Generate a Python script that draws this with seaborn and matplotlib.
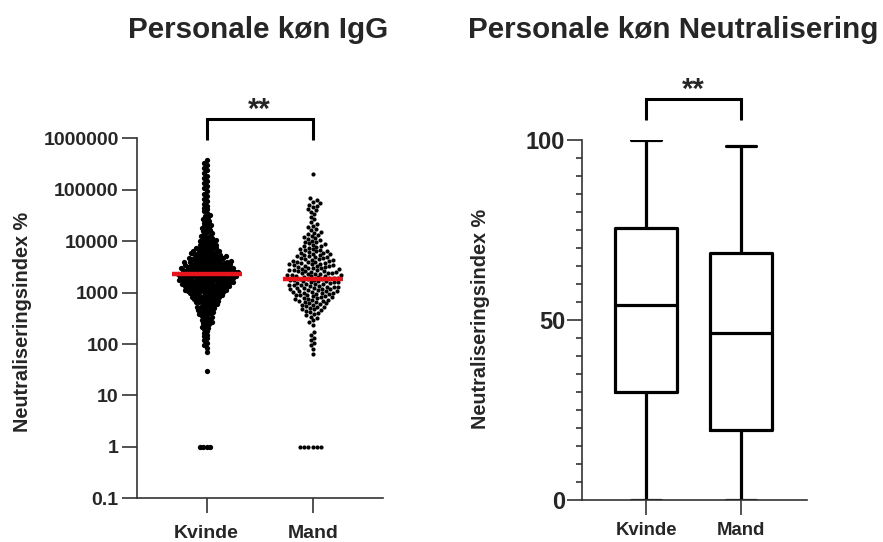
import numpy as np
import pandas as pd
import matplotlib
matplotlib.use("Agg")
import matplotlib.pyplot as plt
import seaborn as sns
from matplotlib.ticker import FixedLocator, MultipleLocator, NullLocator

# ---------------- data ----------------
categories = ["Kvinde", "Mand"]

# IgG panel: swarm read as a histogram (bin centre in log10 units, number of dots)
igg_kvinde_log_bins = [5.55, 5.45, 5.35, 5.25, 5.15, 5.05, 4.95, 4.85, 4.75, 4.65, 4.55, 4.45,
                       4.35, 4.25, 4.15, 4.05, 3.95, 3.85, 3.75, 3.65, 3.55, 3.45, 3.35,
                       3.25, 3.15, 3.05, 2.95, 2.85, 2.75, 2.65, 2.55, 2.45, 2.35, 2.25,
                       2.15, 2.05, 1.95, 1.85, 1.48]
igg_kvinde_counts = [2, 2, 2, 2, 2, 2, 2, 2, 2, 3, 3, 4,
                     4, 5, 5, 7, 8, 11, 14, 18, 22, 25, 27,
                     26, 23, 20, 15, 12, 9, 8, 6, 5, 4, 3,
                     3, 2, 2, 1, 1]
igg_mand_log_bins = [5.3, 4.8, 4.7, 4.6, 4.5, 4.4, 4.3, 4.2, 4.1, 4.0, 3.9, 3.8, 3.7,
                     3.6, 3.5, 3.4, 3.3, 3.2, 3.1, 3.0, 2.9, 2.8, 2.7, 2.6, 2.5, 2.4,
                     2.2, 2.1, 2.0, 1.9, 1.8]
igg_mand_counts = [1, 3, 4, 3, 2, 2, 3, 4, 5, 6, 7, 9, 10,
                   12, 13, 14, 15, 14, 14, 13, 11, 9, 7, 5, 3, 2,
                   2, 2, 2, 1, 1]
igg_floor_value = 1
igg_floor_counts = [4, 6]
igg_medians = [2280, 1850]
igg_ticks = [0.1, 1, 10, 100, 1000, 10000, 100000, 1000000]
igg_tick_labels = ["0.1", "1", "10", "100", "1000", "10000", "100000", "1000000"]

# Neutralisation panel: min, Q1, median, Q3, max
neut_kvinde = [0, 30.1, 54.2, 75.6, 100]
neut_mand = [0, 19.4, 46.5, 68.8, 98.5]
neut_ticks = [0, 50, 100]

titles = ["Personale køn IgG", "Personale køn Neutralisering"]
ylabel = "Neutraliseringsindex %"
significance = "**"


def expand(log_bins, counts, floor_value, floor_count):
    vals = []
    for c, n in zip(log_bins, counts):
        offs = ((np.arange(n) + 0.5) / n - 0.5) * 0.1
        vals.extend(10 ** (c + offs))
    vals.extend([floor_value] * floor_count)
    return vals


kv = expand(igg_kvinde_log_bins, igg_kvinde_counts, igg_floor_value, igg_floor_counts[0])
ma = expand(igg_mand_log_bins, igg_mand_counts, igg_floor_value, igg_floor_counts[1])
df_kv = pd.DataFrame({"group": [categories[0]] * len(kv), "value": kv})
df_ma = pd.DataFrame({"group": [categories[1]] * len(ma), "value": ma})
df_neut = pd.DataFrame({"group": [categories[0]] * len(neut_kvinde) + [categories[1]] * len(neut_mand),
                        "value": neut_kvinde + neut_mand})

# ---------------- style ----------------
sns.set_style("ticks")
plt.rcParams["font.family"] = ["Liberation Sans", "DejaVu Sans"]
axis_color = "#333333"

W, H = 883, 542
fig = plt.figure(figsize=(W / 100, H / 100), dpi=100)

# ---------------- left panel ----------------
ax1 = fig.add_axes([136.7 / W, (H - 498.3) / H, 246.3 / W, 360 / H])
sns.swarmplot(data=df_kv, x="group", y="value", order=categories, ax=ax1,
              color="black", size=2.4, linewidth=0, log_scale=True, warn_thresh=1)
kv_colls = [c for c in ax1.collections if len(c.get_offsets()) == len(kv)]
sns.swarmplot(data=df_ma, x="group", y="value", order=categories, ax=ax1,
              color="black", size=3.0, linewidth=0, log_scale=True, warn_thresh=1)
for i, m in enumerate(igg_medians):
    half = [0.33, 0.283][i]
    ax1.hlines(m, i - half, i + half, color="#e8141b", lw=3.2, zorder=5)
ax1.set_xlim(-0.66, 1.663)
ax1.set_ylim(igg_ticks[0], igg_ticks[-1])
ax1.yaxis.set_major_locator(FixedLocator(igg_ticks))
ax1.yaxis.set_minor_locator(NullLocator())
ax1.set_yticklabels(igg_tick_labels)

# ---------------- right panel ----------------
ax2 = fig.add_axes([582 / W, 42 / H, 225 / W, 359.7 / H])
lw_box = 2.3
props = dict(color="black", linewidth=lw_box)
sns.boxplot(data=df_neut, x="group", y="value", order=categories, ax=ax2,
            whis=(0, 100), width=0.65, fill=False, color="black", linewidth=lw_box,
            boxprops=props, whiskerprops=props, capprops=props, medianprops=props)
ax2.set_xlim(-0.674, 1.695)
ax2.set_ylim(0, 100)
ax2.yaxis.set_major_locator(FixedLocator(neut_ticks))
ax2.yaxis.set_minor_locator(MultipleLocator(5))

for ax in (ax1, ax2):
    sns.despine(ax=ax)
    for s in ("left", "bottom"):
        ax.spines[s].set_color(axis_color)
        ax.spines[s].set_linewidth(1.2)
    ax.set_xlabel("")
    ax.tick_params(axis="both", which="major", length=11, width=1.2, color=axis_color)
    ax.tick_params(axis="y", which="minor", length=4.5, width=1.2, color=axis_color)
    ax.patch.set_alpha(0)

ax1.tick_params(axis="y", labelsize=14, pad=2)
ax1.tick_params(axis="x", labelsize=14, pad=8)
ax2.tick_params(axis="y", labelsize=17, pad=1)
ax2.tick_params(axis="x", labelsize=13.3, pad=5)
for lab in (ax1.get_yticklabels() + ax1.get_xticklabels()
            + ax2.get_xticklabels() + ax2.get_yticklabels()):
    lab.set_fontweight("bold")

ax1.set_ylabel(ylabel, fontsize=14.3, fontweight="bold", va="center")
ax1.yaxis.set_label_coords(-0.462, 0.49)
ax2.set_ylabel(ylabel, fontsize=14.3, fontweight="bold", va="center")
ax2.yaxis.set_label_coords(-0.45, 0.503)

# significance brackets
def bracket(ax, y_top, y_leg, y_text):
    tr = ax.get_xaxis_transform()
    ax.plot([0, 0, 1, 1], [y_leg, y_top, y_top, y_leg], transform=tr, clip_on=False,
            color="black", lw=2.2, solid_capstyle="butt", solid_joinstyle="miter")
    ax.text(0.5, y_text, significance, transform=tr, ha="center", va="baseline",
            fontsize=21, fontweight="bold")

bracket(ax1, (498.3 - 119) / 360, (498.3 - 140) / 360, (498.3 - 118) / 360)
bracket(ax2, (500 - 99) / 359.7, (500 - 120) / 359.7, (500 - 98) / 359.7)

fig.text(258.5 / W, 1 - 30 / H, titles[0], ha="center", va="center", fontsize=21.3, fontweight="bold")
fig.text(673.5 / W, 1 - 30 / H, titles[1], ha="center", va="center", fontsize=21.3, fontweight="bold")

# lay the swarm out with small dots, then freeze positions and show slightly larger dots
fig.canvas.draw()
for c in kv_colls:
    c.__dict__.pop("draw", None)
    c.set_sizes([3.8 ** 2])

fig.savefig("out.png", dpi=100)
